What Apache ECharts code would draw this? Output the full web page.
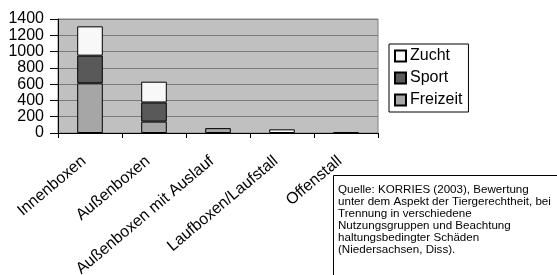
<!DOCTYPE html>
<html>
<head>
<meta charset="utf-8">
<script src="https://cdn.jsdelivr.net/npm/echarts@6/dist/echarts.min.js"></script>
<style>
  html, body { margin: 0; padding: 0; background: #fff; }
  #chart { width: 557px; height: 275px; }
</style>
</head>
<body>
<div id="chart"></div>
<script>
// Haltungsformen
const categories = ['Innenboxen', 'Außenboxen', 'Außenboxen mit Auslauf', 'Laufboxen/Laufstall', 'Offenstall'];
const freizeit = [610, 140, 60, 0, 0];
const sport = [340, 235, 0, 0, 10];
const zucht = [360, 255, 0, 45, 0];
const legendOrder = ['Zucht', 'Sport', 'Freizeit'];
const quelle = 'Quelle: KORRIES (2003), Bewertung\nunter dem Aspekt der Tiergerechtheit, bei\nTrennung in verschiedene\nNutzungsgruppen und Beachtung\nhaltungsbedingter Schäden\n(Niedersachsen, Diss).';

const font = 'Liberation Sans, Arial, sans-serif';
const chart = echarts.init(document.getElementById('chart'));

// leere Segmente nicht zeichnen
const barSeries = (name, data, color) => ({
    name: name,
    type: 'bar',
    stack: 'total',
    data: data.map(v => (v === 0 ? '-' : v)),
    barWidth: '40%',
    itemStyle: { color: color, borderColor: '#000', borderWidth: 1 }
});

chart.setOption({
    animation: false,
    textStyle: { fontFamily: font },
    title: {
        text: quelle,
        left: 333,
        top: 175,
        padding: [9, 60, 40, 5],
        borderColor: '#000',
        borderWidth: 1,
        backgroundColor: '#fff',
        textStyle: { fontFamily: font, fontSize: 11.6, fontWeight: 'normal', color: '#000', lineHeight: 12 }
    },
    legend: {
        data: legendOrder,
        orient: 'vertical',
        left: 389,
        top: 44,
        padding: [4, 6, 4, 5],
        itemGap: 6,
        itemWidth: 11,
        itemHeight: 11,
        icon: 'rect',
        borderColor: '#000',
        borderWidth: 1,
        textStyle: { fontFamily: font, fontSize: 16, color: '#000', padding: [0, 0, 0, -1] }
    },
    grid: {
        left: 58, right: 179, top: 19, bottom: 142,
        outerBoundsMode: 'none',
        containLabel: false,
        show: true,
        backgroundColor: '#c0c0c0',
        borderColor: '#808080',
        borderWidth: 1
    },
    xAxis: {
        type: 'category',
        data: categories,
        axisLine: { lineStyle: { color: '#000' } },
        axisTick: { show: true, length: 5, lineStyle: { color: '#000' } },
        axisLabel: { rotate: 40, fontSize: 16, color: '#000', margin: 21, interval: 0, hideOverlap: false, padding: [0, 8, 0, 0] }
    },
    yAxis: {
        type: 'value',
        min: 0,
        max: 1400,
        interval: 200,
        axisLine: { show: true, lineStyle: { color: '#000' } },
        axisTick: { show: true, length: 8, lineStyle: { color: '#000' } },
        axisLabel: { fontSize: 16, color: '#000', margin: 14, showMinLabel: true, showMaxLabel: true, hideOverlap: false, formatter: v => String(v) },
        splitLine: { lineStyle: { color: '#7a7a7a', width: 1 } }
    },
    series: [
        barSeries('Freizeit', freizeit, '#a6a6a6'),
        barSeries('Sport', sport, '#595959'),
        barSeries('Zucht', zucht, '#f8f8f8')
    ]
});
</script>
</body>
</html>
